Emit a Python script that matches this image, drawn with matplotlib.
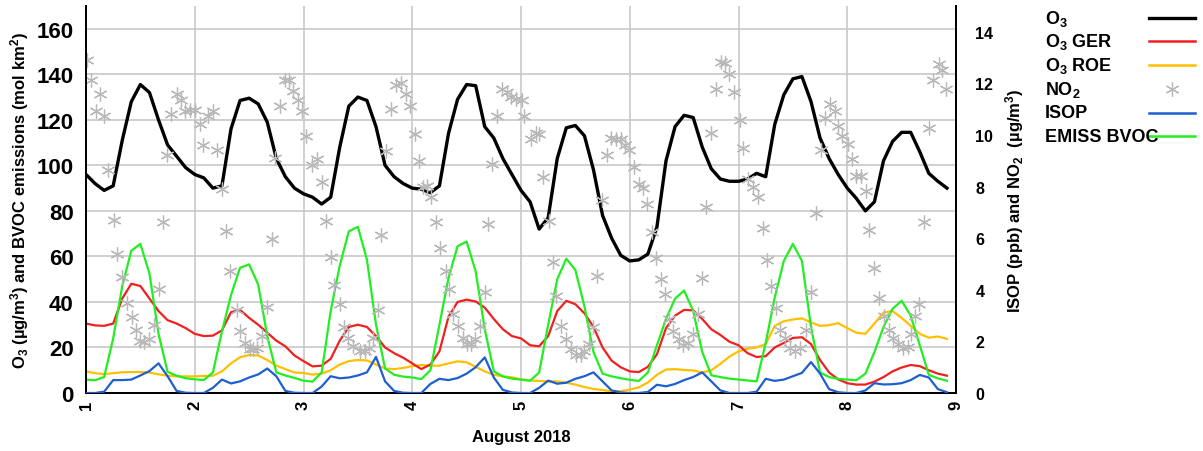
import matplotlib
matplotlib.use("Agg")
import matplotlib.pyplot as plt
from matplotlib.lines import Line2D
import numpy as np

plt.rcParams['font.family'] = ['Liberation Sans', 'DejaVu Sans']
plt.rcParams['font.weight'] = 'bold'
plt.rcParams['mathtext.fontset'] = 'custom'
plt.rcParams['mathtext.default'] = 'bf'
plt.rcParams['mathtext.bf'] = 'Liberation Sans:bold'
plt.rcParams['mathtext.rm'] = 'Liberation Sans:bold'

# hours since 1 August 00:00, every 2 h
hours = np.arange(0, 192, 2)

o3 = [96, 92, 89, 91, 111, 128, 135.5, 132, 120, 109, 104, 99,
      96, 94.5, 90, 91, 116, 128.5, 129.5, 127, 119, 103, 95, 90,
      87.5, 86, 83, 86, 108, 126, 130, 128.5, 117, 100, 95, 92,
      90, 89.5, 88, 91, 114, 129, 135.5, 135, 117, 112, 103, 96,
      89, 84, 72, 77, 103, 116.5, 117.5, 113, 98, 78, 68, 60.5,
      58, 58.5, 61, 73, 102, 117, 122, 121, 108, 98.5, 94, 93,
      93, 94, 96.5, 95, 118, 131, 138, 139, 128, 112, 103, 96,
      90, 85.5, 80, 84, 102, 110.5, 114.5, 114.5, 106, 96.5, 93, 90]

o3_ger = [30.5, 29.7, 29.5, 30.5, 41.5, 48, 47, 41.5, 36, 32, 30.5, 28.5,
          26, 25, 25.2, 27.5, 35.5, 36.5, 33, 30, 26.5, 23, 20.5, 16.5,
          14, 11.7, 12, 15, 23, 29, 30, 29, 25, 20, 17.5, 15.5,
          13, 10.5, 12.5, 18.3, 33.5, 40, 41, 40.2, 37.5, 32.5, 28, 25,
          24, 21, 20.5, 25, 36, 40.5, 39, 35, 29, 20, 14.2, 11.3,
          9.5, 9.2, 11.5, 17, 28.5, 34, 36.5, 36.3, 32.5, 28, 25.5, 22.5,
          21, 17.5, 15.8, 16.2, 20, 22, 24.2, 24.5, 21.5, 14.5, 9, 6,
          4.3, 3.7, 3.7, 5, 7, 9.5, 11.2, 12.3, 11.8, 10, 8.5, 7.6]

o3_roe = [9.5, 8.7, 8.3, 8.7, 9.1, 9.2, 9.2, 9, 8.2, 7.6, 7.3, 7.3,
          7.3, 7.5, 7.6, 9.5, 13, 15.7, 16.7, 16.5, 14.5, 12, 10.5, 9,
          8.8, 8.1, 8.5, 10, 12.5, 14, 14.5, 14.3, 12.5, 10.8, 10.5, 11,
          11.8, 12.3, 12, 12, 13, 13.9, 13.5, 11.5, 9.5, 8, 7.3, 6.9,
          6, 5.5, 5.3, 5.1, 5.1, 4.5, 3.7, 2.6, 1.8, 1.3, 0.8, 0.8,
          1.5, 2.5, 4.6, 8, 10.3, 10.5, 10.1, 9.9, 9, 10, 12.8, 16,
          18.3, 19.5, 20, 21.5, 29.5, 31.5, 32.3, 32.8, 31, 29.5, 29.8, 30.7,
          28.5, 26.5, 26, 30.5, 35.3, 36, 33, 29.5, 26, 24.3, 24.8, 23.8]

isop = [0, 0, 0.05, 0.5, 0.5, 0.52, 0.68, 0.85, 1.15, 0.65, 0.08, 0.01,
        0, 0, 0.2, 0.52, 0.37, 0.45, 0.6, 0.72, 0.95, 0.65, 0.08, 0.01,
        0, 0, 0.25, 0.65, 0.57, 0.6, 0.68, 0.8, 1.4, 0.45, 0.08, 0.01,
        0, 0, 0.35, 0.55, 0.5, 0.58, 0.75, 1.0, 1.38, 0.6, 0.12, 0.02,
        0, 0, 0.2, 0.48, 0.36, 0.4, 0.55, 0.65, 0.8, 0.45, 0.1, 0.02,
        0, 0, 0.04, 0.32, 0.26, 0.35, 0.5, 0.62, 0.8, 0.45, 0.1, 0,
        0, 0, 0.05, 0.55, 0.47, 0.52, 0.65, 0.78, 1.2, 0.75, 0.15, 0.03,
        0, 0, 0.1, 0.38, 0.33, 0.34, 0.38, 0.5, 0.7, 0.6, 0.15, 0.03]

emiss_bvoc = [5.9, 5.6, 7, 24, 47, 62.5, 65.5, 52.5, 26, 9.3, 7.6, 6.5,
              6, 5.7, 9, 27, 43, 55, 56.5, 47.6, 25, 9, 7.7, 6.6,
              5.4, 5, 9, 36, 56, 71, 73, 58.5, 30, 10.8, 8, 7.2,
              6.8, 6.1, 10, 30, 50.5, 64.5, 66.5, 53.4, 28, 9.5, 7.3, 6.3,
              5.9, 5.4, 9, 30, 50, 59, 54, 38, 18, 8.5, 7.3, 6.5,
              5.8, 5.3, 9, 21, 32.5, 41.5, 45, 36, 18, 7.8, 7, 6.3,
              5.9, 5.5, 5.1, 22, 42, 58, 65.5, 58, 29, 9, 7, 6.2,
              5.9, 5.6, 8.5, 18, 29, 37, 40.5, 34, 21, 8, 6.4, 5.4]

no2_hours = [0.2, 1.1, 2.2, 3.1, 4.0, 4.9, 6.1, 6.9, 7.9, 9.0, 10.2, 11.1, 11.9, 12.9,
             14.0, 15.0, 16.1, 17.0, 17.9, 18.8, 20.0, 21.0, 21.9, 22.9, 24.1, 25.1,
             25.8, 26.9, 28.0, 28.9, 30.0, 31.0, 31.8, 33.3, 34.0, 35.1, 36.1, 36.9,
             37.7, 38.8, 39.9, 41.0, 41.7, 42.8, 43.9, 44.8, 45.7, 46.8, 47.6, 48.6,
             49.8, 50.9, 52.0, 52.9, 54.1, 54.8, 56.0, 57.0, 57.9, 59.0, 60.4, 61.5,
             62.4, 63.4, 64.5, 65.2, 66.3, 67.2, 68.5, 69.5, 70.6, 71.5, 72.5, 73.4,
             74.3, 75.3, 76.2, 77.3, 78.2, 79.4, 80.2, 81.1, 82.1, 83.1, 84.1, 84.9,
             85.8, 86.9, 88.0, 88.8, 89.7, 90.8, 91.9, 92.8, 93.7, 94.8,
             96.2, 96.7, 98.2, 99.3, 100.0, 100.9, 102.1, 103.0, 103.7, 104.8, 105.9,
             107.0, 108.1, 109.2, 110.0, 110.9, 111.8, 112.8, 113.9, 114.9, 115.8,
             116.9, 118.0, 119.0, 119.9, 121.0, 122.0, 123.0, 123.9, 124.9, 125.8,
             126.9, 127.8, 128.7, 129.6, 130.8, 131.8, 132.8, 133.9, 135.0, 136.0,
             136.9, 137.9, 139.0, 140.1, 141.1, 142.0, 143.0,
             144.3, 145.0, 146.2, 147.2, 148.2, 149.3, 150.2, 151.1, 152.2, 153.2,
             154.3, 155.4, 156.5, 157.6, 158.9, 160.1, 161.1, 162.1, 163.0, 164.3,
             165.2, 166.0, 166.9, 168.2, 169.1, 170.0, 171.1, 172.2, 172.9, 174.0,
             175.0, 176.0, 177.2, 178.2, 179.3, 180.3, 181.4, 182.1, 183.0, 183.9,
             185.0, 186.0, 187.0, 188.2, 188.9, 189.8]
no2 = [12.9, 12.15, 10.93, 11.57, 10.74, 8.63, 6.7, 5.38, 4.5, 3.5, 2.94, 2.46, 2.01, 1.98,
       2.08, 2.63, 4.02, 6.61, 9.21, 10.8, 11.58, 11.35, 10.93, 10.96, 10.96, 10.41,
       9.6, 10.74, 10.93, 9.4, 7.91, 6.29, 4.73, 3.2, 2.4, 1.95, 1.69, 1.69,
       1.75, 2.2, 3.33, 5.97, 9.12, 11.12, 12.15, 12.15, 11.71, 11.35, 10.93, 9.95,
       8.82, 9.08, 8.17, 6.68, 5.28, 4.19, 3.44, 2.56, 2.14, 1.82, 1.62, 1.62,
       1.75, 2.14, 3.2, 6.13, 9.38, 10.99, 11.93, 12.02, 11.58, 11.12, 10.05, 8.99,
       8.0, 8.04, 7.59, 6.61, 5.62, 4.73, 4.02, 3.05, 2.59, 2.14, 1.88, 1.88,
       2.08, 2.59, 3.93, 6.55, 8.88, 10.73, 11.8, 11.67, 11.48, 11.41,
       11.35, 10.73, 9.86, 10.08, 10.05, 8.37, 6.68, 5.06, 3.76, 2.59, 2.08,
       1.69, 1.49, 1.49, 1.62, 1.88, 2.56, 4.54, 7.48, 9.21, 9.9,
       9.86, 9.86, 9.6, 9.4, 8.75, 8.1, 7.95, 7.33, 6.23, 5.23,
       4.41, 3.85, 2.85, 2.4, 2.08, 1.85, 1.95, 2.3, 3.07, 4.45,
       7.2, 10.08, 11.8, 12.84, 12.8, 12.36, 11.67,
       10.6, 9.51, 8.3, 8.0, 7.61, 6.39, 5.15, 4.15, 3.28, 2.46,
       2.14, 1.75, 1.62, 1.75, 2.46, 3.93, 6.96, 9.4, 10.64, 11.22,
       10.93, 10.34, 9.95, 9.66, 9.08, 8.43, 8.43, 7.82, 6.32, 4.86,
       3.7, 2.98, 2.46, 2.14, 1.88, 1.75, 1.78, 2.27, 2.98, 3.44,
       6.61, 10.27, 12.15, 12.75, 12.52, 11.8]

day = 1 + hours / 24
no2_day = 1 + np.array(no2_hours) / 24

c_o3, c_ger, c_roe = 'black', '#f02020', '#ffc000'
c_no2, c_isop, c_bvoc = '#b8b8b8', '#1e5fd0', '#22ee22'
star = (6, 2, 0)

fig = plt.figure(figsize=(12.03, 4.52), dpi=100)
ax = fig.add_axes([86 / 1203, 58 / 452, 870 / 1203, 387 / 452])
ax2 = ax.twinx()

ax2.plot(no2_day, no2, linestyle='none', marker=star, markersize=10,
         markeredgewidth=0.9, color=c_no2, zorder=1)
ax.plot(day, o3_roe, color=c_roe, lw=1.6)
ax.plot(day, o3_ger, color=c_ger, lw=1.6)
ax.plot(day, emiss_bvoc, color=c_bvoc, lw=1.6)
ax.plot(day, o3, color=c_o3, lw=2.4)
ax2.plot(day, isop, color=c_isop, lw=1.6, zorder=3)

ax.set_xlim(1, 9)
ax.set_ylim(0, 170)
ax2.set_ylim(0, 15)
ax.set_xticks(range(1, 10))
ax.set_yticks(range(0, 161, 20))
ax2.set_yticks(range(0, 15, 2))
ax.grid(True, color='#c8c8c8', lw=1.2)
ax.set_axisbelow(True)

for a in (ax, ax2):
    a.spines['top'].set_visible(False)
    for s in ('left', 'right', 'bottom'):
        a.spines[s].set_linewidth(1.3)
ax.tick_params(axis='y', length=0, pad=9, labelsize=16)
ax.tick_params(axis='x', length=0, pad=5, labelsize=12, labelrotation=90)
ax2.tick_params(axis='y', length=0, pad=14, labelsize=11.5)

ax.set_xlabel('August 2018', fontsize=12, fontweight='bold', labelpad=14)
ax.set_ylabel('O$_3$ (µg/m$^3$) and BVOC emissions (mol km$^2$)',
              fontsize=12, fontweight='bold', labelpad=4)
ax2.set_ylabel('ISOP (ppb) and NO$_2$  (µg/m$^3$)', fontsize=12,
               fontweight='bold', labelpad=7)

# legend, gnuplot style: labels left, samples right
labels = ['O$_3$', 'O$_3$ GER', 'O$_3$ ROE', 'NO$_2$', 'ISOP', 'EMISS BVOC']
colors = [c_o3, c_ger, c_roe, c_no2, c_isop, c_bvoc]
ys = [19, 42, 66, 90, 113.5, 137]
for lab, col, y in zip(labels, colors, ys):
    yf = 1 - y / 452
    fig.text(1045 / 1203, yf, lab, fontsize=13, fontweight='bold', va='center', ha='left')
    if lab.startswith('NO'):
        fig.add_artist(Line2D([1172 / 1203], [yf], linestyle='none', marker=star,
                              markersize=10, markeredgewidth=0.9, color=col))
    else:
        fig.add_artist(Line2D([1149 / 1203, 1195 / 1203], [yf, yf], color=col,
                              lw=2.4 if col == c_o3 else 1.8))

fig.savefig('out.png', dpi=100)
